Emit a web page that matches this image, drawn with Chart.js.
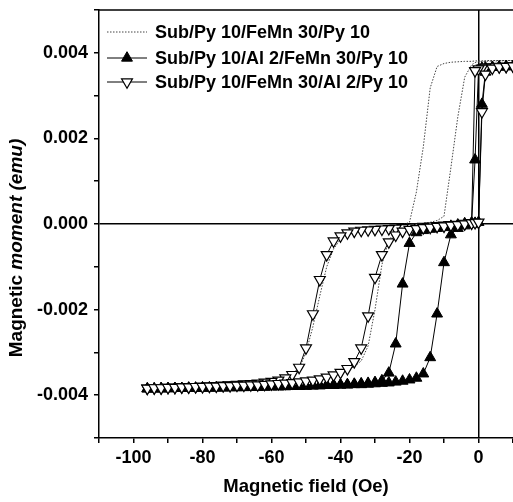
<!DOCTYPE html>
<html>
<head>
<meta charset="UTF-8">
<title>Magnetic moment vs field</title>
<script src="https://cdn.jsdelivr.net/npm/chart.js"></script>
<style>
  html, body { margin: 0; padding: 0; background: #fff; overflow: hidden; }
  #wrap { width: 513px; height: 502px; }
</style>
</head>
<body>
<div id="wrap"><canvas id="loops"></canvas></div>
<script>
// applied field (Oe), same steps for every branch, from +10 down to -96
const field = [10, 8, 6, 4, 2, 1, 0, -1, -2,
  -4, -6, -8, -10, -12, -14, -16, -18, -20, -22,
  -24, -26, -28, -30, -32, -34, -36, -38, -40, -42,
  -44, -46, -48, -50, -52, -54, -56, -58, -60, -62,
  -64, -66, -68, -70, -72, -74, -76, -78, -80, -82,
  -84, -86, -88, -90, -92, -94, -96];

// Sub/Py 10/FeMn 30/Py 10 (dotted)
const pyDown = [0.00382, 0.00382, 0.00382, 0.00382, 0.00382, 0.00381, 0.00381, 0.00381, 0.00380,
  0.00380, 0.00379, 0.00378, 0.00375, 0.00368, 0.00318, 0.00180, 0.00075, 0.00004, -0.00002,
  -0.00005, -0.00007, -0.00009, -0.00011, -0.00013, -0.00016, -0.00020, -0.00026, -0.00036, -0.00058,
  -0.00100, -0.00168, -0.00240, -0.00300, -0.00338, -0.00355, -0.00363, -0.00367, -0.00370, -0.00372,
  -0.00373, -0.00374, -0.00375, -0.00376, -0.00377, -0.00377, -0.00378, -0.00378, -0.00379, -0.00379,
  -0.00380, -0.00380, -0.00381, -0.00381, -0.00382, -0.00382, -0.00382];
const pyUp = [0.00382, 0.00382, 0.00381, 0.00381, 0.00380, 0.00380, 0.00379, 0.00377, 0.00372,
  0.00343, 0.00250, 0.00132, 0.00018, 0.00008, 0.00004, 0.00001, -0.00002, -0.00005, -0.00009,
  -0.00016, -0.00038, -0.00095, -0.00200, -0.00285, -0.00320, -0.00333, -0.00341, -0.00347, -0.00352,
  -0.00356, -0.00360, -0.00363, -0.00366, -0.00368, -0.00370, -0.00372, -0.00373, -0.00374, -0.00375,
  -0.00376, -0.00376, -0.00377, -0.00377, -0.00378, -0.00378, -0.00379, -0.00379, -0.00379, -0.00380,
  -0.00380, -0.00380, -0.00381, -0.00381, -0.00381, -0.00382, -0.00382];

// Sub/Py 10/Al 2/FeMn 30/Py 10 (filled up triangles)
const alLowDown = [0.00368, 0.00368, 0.00367, 0.00366, 0.00365, 0.00364, 0.00360, 0.00150, 0.00003,
  0.00001, -0.00002, -0.00005, -0.00008, -0.00010, -0.00012, -0.00015, -0.00020, -0.00045, -0.00140,
  -0.00280, -0.00348, -0.00366, -0.00370, -0.00372, -0.00373, -0.00374, -0.00375, -0.00376, -0.00376,
  -0.00377, -0.00377, -0.00378, -0.00378, -0.00379, -0.00379, -0.00379, -0.00380, -0.00380, -0.00380,
  -0.00381, -0.00381, -0.00381, -0.00382, -0.00382, -0.00382, -0.00382, -0.00383, -0.00383, -0.00383,
  -0.00383, -0.00384, -0.00384, -0.00384, -0.00384, -0.00385, -0.00385];
const alLowUp = [0.00368, 0.00368, 0.00367, 0.00366, 0.00355, 0.00280, 0.00004, 0.00002, 0.00000,
  -0.00004, -0.00010, -0.00025, -0.00090, -0.00210, -0.00312, -0.00350, -0.00360, -0.00364, -0.00367,
  -0.00369, -0.00371, -0.00372, -0.00373, -0.00374, -0.00375, -0.00375, -0.00376, -0.00376, -0.00377,
  -0.00377, -0.00378, -0.00378, -0.00379, -0.00379, -0.00379, -0.00380, -0.00380, -0.00380, -0.00381,
  -0.00381, -0.00381, -0.00382, -0.00382, -0.00382, -0.00383, -0.00383, -0.00383, -0.00383, -0.00384,
  -0.00384, -0.00384, -0.00384, -0.00385, -0.00385, -0.00385, -0.00385];

// Sub/Py 10/FeMn 30/Al 2/Py 10 (open down triangles)
const alTopDown = [0.00369, 0.00368, 0.00368, 0.00367, 0.00366, 0.00364, 0.00362, 0.00358, 0.00003,
  0.00001, -0.00001, -0.00002, -0.00003, -0.00004, -0.00005, -0.00006, -0.00007, -0.00008, -0.00009,
  -0.00010, -0.00011, -0.00012, -0.00013, -0.00014, -0.00015, -0.00017, -0.00021, -0.00028, -0.00040,
  -0.00072, -0.00130, -0.00210, -0.00290, -0.00335, -0.00352, -0.00360, -0.00365, -0.00368, -0.00370,
  -0.00372, -0.00373, -0.00374, -0.00375, -0.00376, -0.00377, -0.00378, -0.00379, -0.00379, -0.00380,
  -0.00381, -0.00381, -0.00382, -0.00382, -0.00383, -0.00383, -0.00384];
const alTopUp = [0.00369, 0.00368, 0.00367, 0.00364, 0.00350, 0.00262, 0.00004, 0.00003, 0.00002,
  0.00000, -0.00002, -0.00003, -0.00005, -0.00006, -0.00008, -0.00009, -0.00011, -0.00013, -0.00017,
  -0.00026, -0.00042, -0.00072, -0.00125, -0.00215, -0.00290, -0.00322, -0.00338, -0.00347, -0.00353,
  -0.00358, -0.00362, -0.00365, -0.00367, -0.00369, -0.00371, -0.00372, -0.00373, -0.00374, -0.00375,
  -0.00376, -0.00376, -0.00377, -0.00377, -0.00378, -0.00378, -0.00379, -0.00379, -0.00380, -0.00380,
  -0.00381, -0.00381, -0.00382, -0.00382, -0.00383, -0.00383, -0.00384];

const seriesNames = ['Sub/Py 10/FeMn 30/Py 10', 'Sub/Py 10/Al 2/FeMn 30/Py 10', 'Sub/Py 10/FeMn 30/Al 2/Py 10'];

const FONT = '"Liberation Sans", Arial, sans-serif';

// down branch (field decreasing) then back up
function loop(down, up) {
    const pts = field.map((f, i) => ({ x: f, y: down[i] }));
    const back = field.map((f, i) => ({ x: f, y: up[i] })).reverse();
    return pts.concat(back);
}

const datasets = [
    {
        label: seriesNames[0], data: loop(pyDown, pyUp), order: 3,
        borderColor: '#444', borderWidth: 1, borderDash: [1.5, 1.5],
        pointRadius: 0
    },
    {
        label: seriesNames[1], data: loop(alLowDown, alLowUp), order: 2,
        borderColor: '#000', borderWidth: 1,
        pointStyle: 'triangle', pointRadius: 6.3,
        pointBackgroundColor: '#000', pointBorderColor: '#000', pointBorderWidth: 1
    },
    {
        label: seriesNames[2], data: loop(alTopDown, alTopUp), order: 1,
        borderColor: '#000', borderWidth: 1,
        pointStyle: 'triangle', pointRotation: 180, pointRadius: 6.3,
        pointBackgroundColor: '#fff', pointBorderColor: '#000', pointBorderWidth: 1.2
    }
];

// the plot runs to the right edge of the canvas (chart.js keeps a few px for the "0" label)
const fullWidth = {
    id: 'fullWidth',
    afterLayout(chart) {
        const a = chart.chartArea;
        a.right = chart.width;
        a.width = a.right - a.left;
        const x = chart.scales.x;
        x.right = chart.width;
        x.width = x.right - x.left;
        x.configure();
    }
};

// top frame line, y title with italic part, legend inside the plot
const decor = {
    id: 'decor',
    afterDraw(chart) {
        const ctx = chart.ctx;
        const a = chart.chartArea;
        ctx.save();
        ctx.strokeStyle = '#000';
        ctx.lineWidth = 1.5;
        ctx.beginPath();
        ctx.moveTo(a.left, a.top);
        ctx.lineTo(a.right, a.top);
        ctx.stroke();

        // y axis title
        ctx.translate(17, 248);
        ctx.rotate(-Math.PI / 2);
        ctx.fillStyle = '#000';
        ctx.textBaseline = 'middle';
        ctx.textAlign = 'left';
        const p1 = 'Magnetic ', p2 = 'moment (emu)';
        ctx.font = 'bold 19px ' + FONT;
        const w1 = ctx.measureText(p1).width;
        ctx.font = 'italic bold 19px ' + FONT;
        const w2 = ctx.measureText(p2).width;
        let x0 = -(w1 + w2) / 2;
        ctx.font = 'bold 19px ' + FONT;
        ctx.fillText(p1, x0, 0);
        ctx.font = 'italic bold 19px ' + FONT;
        ctx.fillText(p2, x0 + w1, 0);
        ctx.restore();

        // legend
        const rows = [38, 64, 88];
        ctx.save();
        chart.data.datasets.forEach((ds, i) => {
            const y = rows[i] - 6;
            ctx.strokeStyle = ds.borderColor;
            ctx.lineWidth = ds.borderWidth;
            ctx.setLineDash(ds.borderDash || []);
            ctx.beginPath();
            ctx.moveTo(107, y);
            ctx.lineTo(147, y);
            ctx.stroke();
            ctx.setLineDash([]);
            if (ds.pointRadius > 0) {
                ctx.fillStyle = ds.pointBackgroundColor;
                ctx.strokeStyle = ds.pointBorderColor;
                ctx.lineWidth = ds.pointBorderWidth;
                Chart.helpers.drawPoint(ctx, {
                    pointStyle: ds.pointStyle, rotation: ds.pointRotation || 0,
                    radius: ds.pointRadius, borderWidth: ds.pointBorderWidth
                }, 127, y);
            }
            ctx.fillStyle = '#000';
            ctx.font = 'bold 18px ' + FONT;
            ctx.textBaseline = 'alphabetic';
            ctx.fillText(ds.label, 155, rows[i]);
        });
        ctx.restore();
    }
};

const zeroLine = c => Math.abs(c.tick.value) < 1e-9 ? '#000' : 'rgba(0,0,0,0)';

new Chart(document.getElementById('loops'), {
    type: 'scatter',
    data: { datasets: datasets },
    plugins: [fullWidth, decor],
    options: {
        responsive: true,
        maintainAspectRatio: false,
        animation: false,
        devicePixelRatio: 1,
        showLine: true,
        layout: { padding: { top: 10, left: 0, right: 0, bottom: 0 } },
        plugins: { legend: { display: false }, tooltip: { enabled: false } },
        scales: {
            x: {
                type: 'linear', min: -110, max: 10,
                afterFit: s => { s.height = 64; },
                ticks: {
                    stepSize: 10, autoSkip: false, maxRotation: 0, padding: 4, color: '#000',
                    font: { family: FONT, size: 18, weight: 'bold' },
                    callback: v => (Math.round(v) % 20 === 0 ? String(v) : '')
                },
                grid: { color: zeroLine, tickColor: '#000', tickLength: 5, lineWidth: 1.5 },
                border: { color: '#000', width: 1.5 },
                title: {
                    display: true, text: 'Magnetic field (Oe)', color: '#000',
                    font: { family: FONT, size: 18.5, weight: 'bold' },
                    padding: { top: 0, bottom: 4 }
                }
            },
            y: {
                type: 'linear', min: -0.005, max: 0.005,
                afterFit: s => { s.width = 99; s.paddingTop = 0; s.paddingBottom = 0; },
                ticks: {
                    stepSize: 0.001, autoSkip: false, padding: 6, color: '#000',
                    font: { family: FONT, size: 18, weight: 'bold' },
                    callback: v => (Math.round(v * 1000) % 2 === 0 ? v.toFixed(3) : '')
                },
                grid: { color: zeroLine, tickColor: '#000', tickLength: 5, lineWidth: 1.5 },
                border: { color: '#000', width: 1.5 }
            }
        }
    }
});
</script>
</body>
</html>
